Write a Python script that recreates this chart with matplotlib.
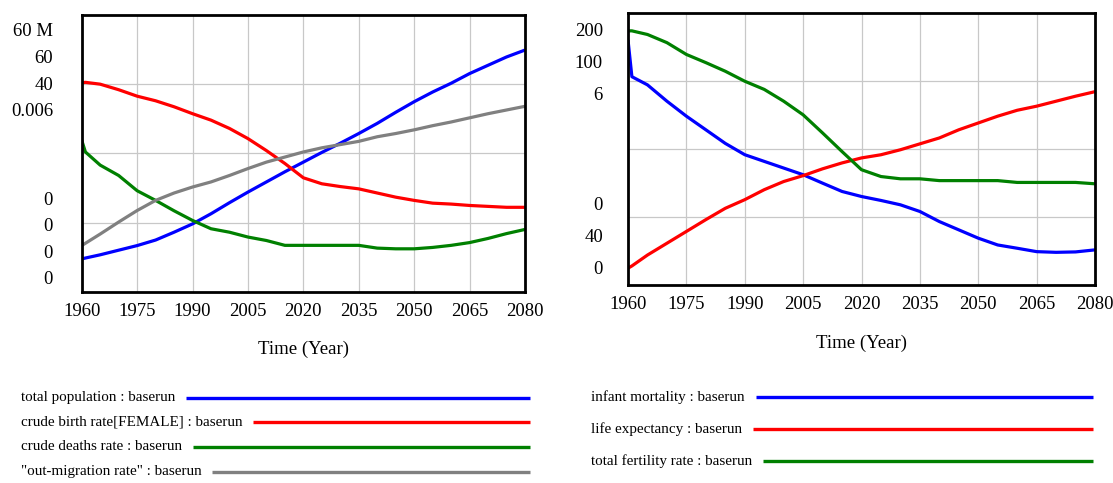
import matplotlib
matplotlib.use("Agg")
import matplotlib.pyplot as plt
from matplotlib.lines import Line2D

# ---------------------------------------------------------------- data
years = [1960, 1961, 1965, 1970, 1975, 1980, 1985, 1990, 1995, 2000, 2005,
         2010, 2015, 2020, 2025, 2030, 2035, 2040, 2045, 2050, 2055, 2060,
         2065, 2070, 2075, 2080]

# left panel
total_population = [7.1e6, 7.3e6, 8.0e6, 9.0e6, 10.0e6, 11.2e6, 12.9e6, 14.7e6,
                    16.9e6, 19.3e6, 21.6e6, 23.8e6, 26.0e6, 28.1e6, 30.2e6,
                    32.2e6, 34.3e6, 36.5e6, 38.9e6, 41.2e6, 43.3e6, 45.2e6,
                    47.3e6, 49.1e6, 50.9e6, 52.4e6]
crude_birth_rate = [45.3, 45.4, 45.0, 43.8, 42.4, 41.4, 40.1, 38.6, 37.2, 35.4,
                    33.2, 30.6, 27.8, 24.7, 23.4, 22.8, 22.3, 21.4, 20.5, 19.8,
                    19.2, 19.0, 18.7, 18.5, 18.3, 18.3]
crude_deaths_rate = [21.9, 20.2, 18.3, 16.8, 14.6, 13.2, 11.7, 10.3, 9.1, 8.6,
                     7.9, 7.4, 6.7, 6.7, 6.7, 6.7, 6.7, 6.3, 6.2, 6.2, 6.4, 6.7,
                     7.1, 7.7, 8.4, 9.0]
out_migration_rate = [0.00100, 0.00105, 0.00125, 0.00151, 0.00176, 0.00198,
                      0.00214, 0.00227, 0.00238, 0.00252, 0.00267, 0.00281,
                      0.00292, 0.00303, 0.00312, 0.00319, 0.00326, 0.00336,
                      0.00343, 0.00351, 0.00360, 0.00368, 0.00377, 0.00386,
                      0.00394, 0.00402]

left_names = ["total population : baserun",
              "crude birth rate[FEMALE] : baserun",
              "crude deaths rate : baserun",
              "\"out-migration rate\" : baserun"]
left_scales = [(0, 60e6), (0, 60), (0, 40), (0, 0.006)]
left_top_labels = ["60 M", "60", "40", "0.006"]
left_bottom_labels = ["0", "0", "0", "0"]

# right panel
infant_mortality = [180.0, 153.0, 147.0, 135.0, 124.0, 114.0, 104.0, 95.7,
                    90.8, 85.9, 81.0, 74.8, 68.7, 65.0, 62.1, 58.9, 54.0, 46.6,
                    40.5, 34.4, 29.4, 27.0, 24.5, 24.0, 24.3, 25.8]
life_expectancy = [43.7, 44.2, 46.6, 49.2, 51.8, 54.4, 56.9, 58.8, 61.0, 62.8,
                   64.1, 65.6, 66.9, 68.0, 68.7, 69.8, 71.1, 72.4, 74.2, 75.7,
                   77.2, 78.5, 79.4, 80.5, 81.6, 82.6]
total_fertility_rate = [5.60, 5.60, 5.52, 5.34, 5.08, 4.90, 4.71, 4.49, 4.31,
                        4.05, 3.75, 3.35, 2.94, 2.54, 2.39, 2.34, 2.34, 2.30,
                        2.30, 2.30, 2.30, 2.26, 2.26, 2.26, 2.26, 2.23]

right_names = ["infant mortality : baserun",
               "life expectancy : baserun",
               "total fertility rate : baserun"]
right_scales = [(0, 200), (40, 100), (0, 6)]
right_top_labels = ["200", "100", "6"]
right_bottom_labels = ["0", "40", "0"]

x_ticks = [1960, 1975, 1990, 2005, 2020, 2035, 2050, 2065, 2080]
x_label = "Time (Year)"

# ---------------------------------------------------------------- figure
W, H = 1113, 483
plt.rcParams['font.family'] = ['Liberation Serif', 'DejaVu Serif']
fig = plt.figure(figsize=(W / 100, H / 100), dpi=100, facecolor="white")

TICK_FS = 13.5
LEGEND_FS = 10.9


def fx(x):
    return x / W


def fy(y):
    return 1 - y / H


def panel(box, series, scales, colors, top_labels, bottom_labels,
          label_right, top_off, bottom_off, step, title_y):
    left, top, right, bottom = box
    ax = fig.add_axes([fx(left), fy(bottom), (right - left) / W,
                       (bottom - top) / H])
    ax.set_xlim(x_ticks[0], x_ticks[-1])
    ax.set_ylim(0, 4)
    ax.set_xticks(x_ticks)
    ax.set_xticklabels([str(t) for t in x_ticks], fontsize=TICK_FS)
    ax.set_yticks([1, 2, 3])
    ax.tick_params(axis="y", length=0, labelleft=False)
    ax.tick_params(axis="x", length=0, pad=8)
    ax.grid(True, color="#c8c8c8", linewidth=0.9)
    for sp in ax.spines.values():
        sp.set_visible(False)

    # one independent vertical scale per series
    for vals, (lo, hi), col in zip(series, scales, colors):
        tw = ax.twinx()
        tw.set_xlim(x_ticks[0], x_ticks[-1])
        tw.set_ylim(lo, hi)
        tw.axis("off")
        tw.plot(years, vals, color=col, linewidth=2.3,
                solid_joinstyle="round", solid_capstyle="butt")

    # heavy frame on top of the curves
    fr = ax.twinx()
    fr.set_yticks([])
    fr.patch.set_visible(False)
    for sp in fr.spines.values():
        sp.set_linewidth(2.0)
        sp.set_color("black")

    # stacked scale labels
    for i, lab in enumerate(top_labels):
        fig.text(fx(label_right), fy(top + top_off + i * step), lab,
                 ha="right", va="center", fontsize=TICK_FS)
    n = len(bottom_labels)
    for i, lab in enumerate(bottom_labels):
        fig.text(fx(label_right), fy(bottom - bottom_off - (n - 1 - i) * step),
                 lab, ha="right", va="center", fontsize=TICK_FS)

    fig.text(fx((left + right) / 2), fy(title_y), x_label,
             ha="center", va="center", fontsize=TICK_FS)


left_colors = ["#0000ff", "#ff0000", "#008000", "#808080"]
right_colors = ["#0000ff", "#ff0000", "#008000"]

panel((81.7, 15, 525, 291.7),
      [total_population, crude_birth_rate, crude_deaths_rate, out_migration_rate],
      left_scales, left_colors, left_top_labels, left_bottom_labels,
      53, 17, 12, 26.5, 349)

panel((628, 12.7, 1095, 285),
      [infant_mortality, life_expectancy, total_fertility_rate],
      right_scales, right_colors, right_top_labels, right_bottom_labels,
      603, 19.3, 16, 31.7, 343)

# ---------------------------------------------------------------- legends
legend_texts = []
for name, col, y in zip(left_names, left_colors, [398, 422, 447, 472]):
    t = fig.text(fx(20.7), fy(y), name, ha="left", va="center",
                 fontsize=LEGEND_FS)
    legend_texts.append((t, col, y, 530))
for name, col, y in zip(right_names, right_colors, [397, 429, 461]):
    t = fig.text(fx(591), fy(y), name, ha="left", va="center",
                 fontsize=LEGEND_FS)
    legend_texts.append((t, col, y, 1093))

fig.canvas.draw()
renderer = fig.canvas.get_renderer()
for t, col, y, x_end in legend_texts:
    x_start = t.get_window_extent(renderer).x1 + 11
    fig.add_artist(Line2D([fx(x_start), fx(x_end)], [fy(y), fy(y)],
                          transform=fig.transFigure, color=col,
                          linewidth=2.4, solid_capstyle="butt"))

fig.savefig("out.png", dpi=100, facecolor="white")
